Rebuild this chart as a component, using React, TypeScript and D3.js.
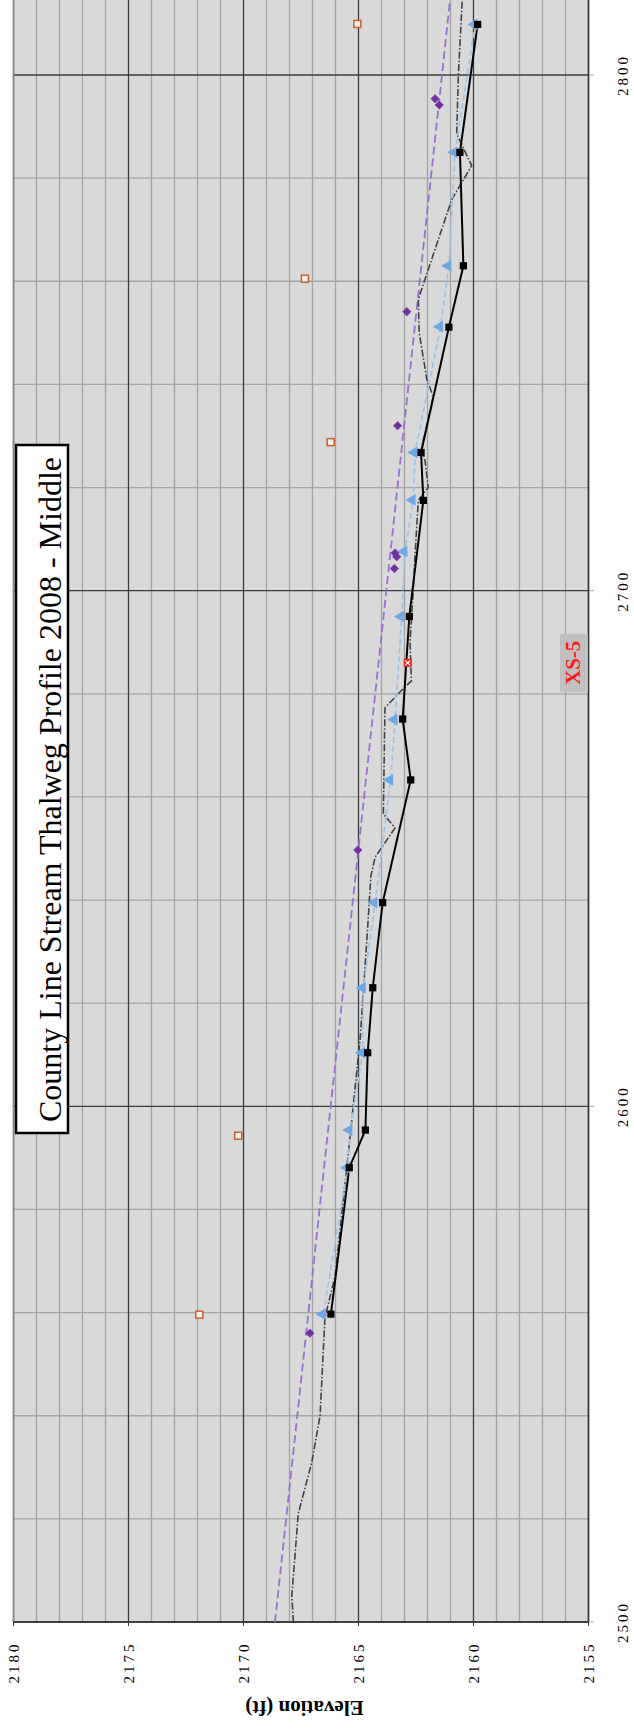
import React from 'react';
import * as d3 from 'd3';

const W = 634;
const H = 1733;

// Axis tick labels
const elevTickLabels = [2180, 2175, 2170, 2165, 2160, 2155];
const stationTickLabels = [2500, 2600, 2700, 2800];

// 2008 thalweg (black line, square markers)
const thalwegStation = [2559.7, 2588.1, 2595.4, 2610.4, 2623.0, 2639.5, 2663.3, 2675.1, 2695.0, 2717.5, 2726.8, 2751.1, 2763.0, 2785.0, 2809.8];
const thalwegElev = [2166.2, 2165.4, 2164.7, 2164.6, 2164.38, 2163.95, 2162.73, 2163.08, 2162.79, 2162.18, 2162.28, 2161.07, 2160.44, 2160.59, 2159.82];

// Light blue dashed line with triangle markers
const blueStation = [2559.7, 2588.1, 2595.4, 2610.4, 2623.0, 2639.5, 2663.3, 2675.0, 2695.0, 2707.6, 2717.6, 2726.8, 2751.2, 2763.0, 2785.0, 2809.8];
const blueElev = [2166.53, 2165.47, 2165.37, 2164.82, 2164.79, 2164.28, 2163.6, 2163.41, 2163.12, 2162.98, 2162.62, 2162.54, 2161.43, 2161.07, 2160.8, 2159.93];

// Dark gray dash-dot profile (no markers)
const grayStation = [2500, 2505, 2521, 2531, 2540, 2559, 2567, 2591, 2613, 2632, 2644.7, 2648.3, 2654, 2656.7, 2677.3, 2681, 2682.5, 2690, 2700, 2707, 2717.5, 2720, 2725, 2727.8, 2737.6, 2741, 2750, 2756.5, 2775.8, 2782.4, 2788.6, 2799.8, 2814.5];
const grayElev = [2167.83, 2167.9, 2167.62, 2167.03, 2166.67, 2166.46, 2166.02, 2165.44, 2164.93, 2164.64, 2164.46, 2164.28, 2163.41, 2163.92, 2163.85, 2163.05, 2162.7, 2162.76, 2162.62, 2162.54, 2162.4, 2161.97, 2162.1, 2162.25, 2161.75, 2162.03, 2162.36, 2162.4, 2160.95, 2160.08, 2160.73, 2160.66, 2160.49];

// Purple dashed line
const purpleLineStation = [2500, 2814.5];
const purpleLineElev = [2168.63, 2161.02];

// Purple diamonds
const diamondStation = [2556.0, 2649.7, 2704.3, 2706.6, 2707.3, 2732.0, 2754.1, 2794.2, 2795.4];
const diamondElev = [2167.11, 2165.03, 2163.44, 2163.34, 2163.41, 2163.3, 2162.9, 2161.49, 2161.67];

// Orange hollow squares
const orangeStation = [2559.6, 2594.3, 2728.8, 2760.5, 2809.9];
const orangeElev = [2171.92, 2170.23, 2166.21, 2167.33, 2165.05];

// Cross section marker
const xsStation = [2686.0];
const xsElev = [2162.86];
const xsLabels = ['XS-5'];

const titleText = 'County Line Stream Thalweg Profile 2008 - Middle';
const elevTitle = 'Elevation (ft)';

const zip = (s: number[], e: number[]) => s.map((v, i) => [v, e[i]] as [number, number]);

export default function App() {
  const x = d3.scaleLinear().domain([2180, 2155]).range([13.5, 588.5]);
  const y = d3.scaleLinear().domain([2500, 2800]).range([1622, 75]);
  const left = x(2180);
  const right = x(2155);
  const bottom = y(2500);
  const top = 0;
  const topStation = y.invert(top);

  const line = d3.line<[number, number]>().x(d => x(d[1])).y(d => y(d[0]));

  const minorElev = d3.range(2155, 2181, 1).filter(v => v % 5 !== 0);
  const majorElev = d3.range(2155, 2181, 5);
  const minorSta = d3.range(2500, topStation, 20).filter(v => v % 100 !== 0);
  const majorSta = d3.range(2500, topStation, 100);

  const tri = d3.symbol(d3.symbolTriangle, 60)() as string;
  const sq = d3.symbol(d3.symbolSquare, 52)() as string;
  const dia = d3.symbol(d3.symbolSquare, 36)() as string;

  const serif = '"Liberation Serif", "Times New Roman", serif';

  return (
    <svg width={W} height={H} style={{ position: 'absolute', left: 0, top: 0, display: 'block', background: '#ffffff' }}>
      <defs>
        <clipPath id="plot">
          <rect x={left} y={top} width={right - left} height={bottom - top} />
        </clipPath>
      </defs>
      <rect x={left} y={top} width={right - left} height={bottom - top} fill="#d9d9d9" />
      {minorElev.map(v => (
        <line key={'me' + v} x1={x(v)} x2={x(v)} y1={top} y2={bottom} stroke="#a3a3a3" strokeWidth={1.3} />
      ))}
      {minorSta.map(v => (
        <line key={'ms' + v} x1={left} x2={right} y1={y(v)} y2={y(v)} stroke="#a3a3a3" strokeWidth={1.3} />
      ))}
      {majorElev.map(v => (
        <line key={'Me' + v} x1={x(v)} x2={x(v)} y1={top} y2={bottom} stroke="#3c3c3c" strokeWidth={1.3} />
      ))}
      {majorSta.map(v => (
        <line key={'Ms' + v} x1={left} x2={right} y1={y(v)} y2={y(v)} stroke="#3c3c3c" strokeWidth={1.3} />
      ))}
      <line x1={left} x2={left} y1={top} y2={bottom} stroke="#8a8a8a" strokeWidth={1.5} />
      <line x1={right} x2={right} y1={top} y2={bottom} stroke="#333" strokeWidth={1.5} />
      <line x1={left} x2={right} y1={bottom} y2={bottom} stroke="#333" strokeWidth={1.5} />
      {elevTickLabels.map(v => (
        <line key={'te' + v} x1={x(v)} x2={x(v)} y1={bottom} y2={bottom + 4} stroke="#333" strokeWidth={1} />
      ))}
      {stationTickLabels.map(v => (
        <line key={'ts' + v} x1={right} x2={right + 5} y1={y(v)} y2={y(v)} stroke="#555" strokeWidth={1} strokeDasharray="1,1" />
      ))}

      <g clipPath="url(#plot)">
        <path d={line(zip(purpleLineStation, purpleLineElev)) || ''} fill="none" stroke="#9a6fd0" strokeWidth={1.8} strokeDasharray="8,4" />
        <path d={line(zip(grayStation, grayElev)) || ''} fill="none" stroke="#404040" strokeWidth={1.6} strokeDasharray="7,2,1.5,2" />
        <path d={line(zip(blueStation, blueElev)) || ''} fill="none" stroke="#9cc3ea" strokeWidth={1.6} strokeDasharray="6,3" />
        <path d={line(zip(thalwegStation, thalwegElev)) || ''} fill="none" stroke="#000" strokeWidth={2} />
        {orangeStation.map((s, i) => (
          <rect key={'o' + i} x={x(orangeElev[i]) - 3.5} y={y(s) - 3.5} width={7} height={7} fill="#f0f0f0" stroke="#c8602c" strokeWidth={1.5} />
        ))}
        {diamondStation.map((s, i) => (
          <path key={'d' + i} d={dia} transform={`translate(${x(diamondElev[i])},${y(s)}) rotate(45)`} fill="#7030a0" stroke="#7030a0" strokeWidth={0.5} />
        ))}
        {blueStation.map((s, i) => (
          <path key={'b' + i} d={tri} transform={`translate(${x(blueElev[i]) - 1},${y(s)}) rotate(-90)`} fill="#6ea8e4" />
        ))}
        {thalwegStation.map((s, i) => (
          <path key={'k' + i} d={sq} transform={`translate(${x(thalwegElev[i])},${y(s)})`} fill="#000" />
        ))}
        {xsStation.map((s, i) => (
          <g key={'x' + i} transform={`translate(${x(xsElev[i])},${y(s)})`}>
            <rect x={-4} y={-4} width={8} height={8} fill="#ff2020" />
            <path d="M-2.5,-2.5L2.5,2.5M-2.5,2.5L2.5,-2.5" stroke="#ffffff" strokeWidth={1.2} />
          </g>
        ))}
        {xsStation.map((s, i) => (
          <g key={'xl' + i}>
            <rect x={right - 28.5} y={y(s) - 29} width={28} height={58} fill="#c0c0c0" />
            <text transform={`translate(${right - 9},${y(s)}) rotate(-90)`} textAnchor="middle" fontFamily={serif} fontWeight="bold" fontSize={21} fill="#ff1a1a">{xsLabels[i]}</text>
          </g>
        ))}
      </g>

      <rect x={16} y={445} width={52} height={688} fill="#ffffff" stroke="#000" strokeWidth={2.5} />
      <text transform={`translate(61,789.5) rotate(-90)`} textAnchor="middle" fontFamily={serif} fontSize={32} fill="#000">{titleText}</text>

      {elevTickLabels.map(v => (
        <text key={'le' + v} transform={`translate(${x(v)},1662.5) rotate(-90)`} textAnchor="middle" dominantBaseline="central" fontFamily={serif} fontSize={15} letterSpacing={3} fill="#000">{v}</text>
      ))}
      {stationTickLabels.map(v => (
        <text key={'ls' + v} transform={`translate(622.5,${y(v)}) rotate(-90)`} textAnchor="middle" dominantBaseline="central" fontFamily={serif} fontSize={15} letterSpacing={3} fill="#000">{v}</text>
      ))}
      <text transform={`translate(304.5,1701) rotate(180)`} textAnchor="middle" fontFamily={serif} fontWeight="bold" fontSize={21} fill="#000">{elevTitle}</text>
    </svg>
  );
}
